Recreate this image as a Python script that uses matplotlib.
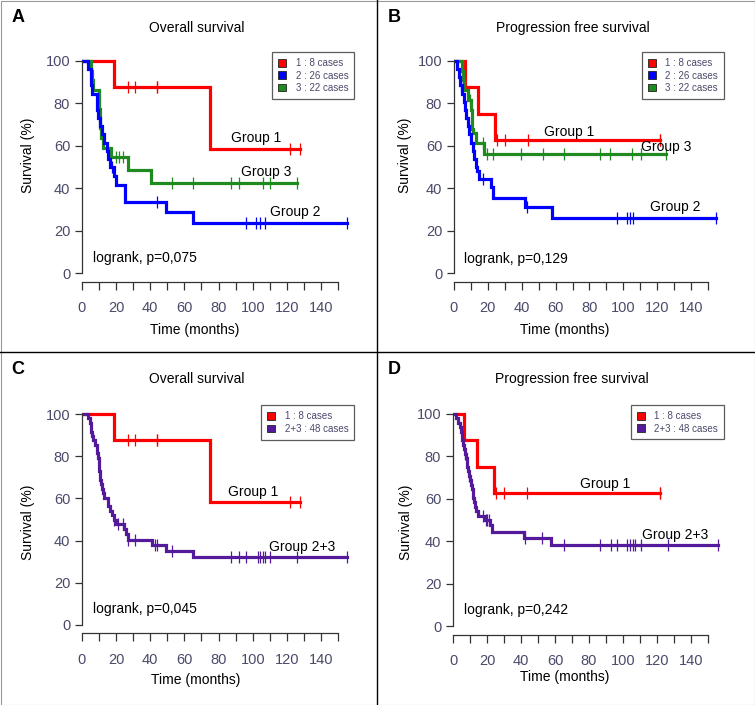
import numpy as np
import matplotlib
matplotlib.use("Agg")
import matplotlib.pyplot as plt
from matplotlib.patches import Patch
from matplotlib.lines import Line2D

plt.rcParams['font.family'] = ['Liberation Sans', 'DejaVu Sans']

# ---- data (event time, survival after the step) ----
# panel A / C : overall survival
os_g1_t = [19, 75]
os_g1_s = [87.5, 58.3]
os_g1_cens = [27, 31, 44, 44, 122, 128]

os_g2_t = [3.5, 5, 5.5, 6, 8.5, 9, 9.5, 10.5, 11.5, 13, 14.5, 15.5, 16.5, 18.5, 20, 25, 49, 65]
os_g2_s = [96.2, 92.3, 88.5, 84.6, 80.8, 76.9, 73.1, 69.2, 65.4, 61.5, 57.7, 53.8, 50.0,
           45.8, 41.7, 33.3, 28.6, 23.8]
os_g2_cens = [17.5, 44, 96, 102, 104, 107, 155]

os_g3_t = [5.5, 6, 6.5, 10, 10.2, 10.4, 10.6, 11, 12.5, 17, 27, 40.5]
os_g3_s = [95.5, 90.9, 86.4, 81.8, 77.3, 72.7, 68.2, 63.6, 59.1, 54.5, 48.5, 42.4]
os_g3_cens = [20, 21.5, 24, 53, 65, 87, 92, 106, 110, 126]

os_g23_t = [3.5, 4.5, 5, 5.5, 6, 6.5, 7.5, 8.5, 9, 9.5, 9.8, 10, 10.2, 10.4, 10.6, 11, 12,
            12.5, 13, 15, 15.5, 16.5, 17.5, 18.5, 20, 24.5, 25.5, 27, 41, 49, 65]
os_g23_s = [97.9, 95.8, 93.8, 91.7, 89.6, 87.5, 85.4, 83.3, 81.3, 79.2, 77.1, 75.0, 72.9,
            70.8, 68.8, 66.7, 64.6, 62.5, 60.4, 58.3, 56.3, 54.2, 52.1, 50.0, 47.9, 45.6,
            42.9, 40.2, 37.8, 35.1, 32.0]
os_g23_cens = [19, 21, 24, 27, 31, 43, 44, 53, 87, 92, 96, 103, 104, 106, 107, 110, 126, 155]

# panel B / D : progression free survival
pfs_g1_t = [6.5, 14, 24]
pfs_g1_s = [87.5, 75.0, 62.5]
pfs_g1_cens = [25.5, 30, 43.5, 121.5, 121.5]

pfs_g2_t = [1.5, 3, 3.5, 5, 6, 6.5, 7, 8, 9, 10, 11, 12, 13, 13.5, 15, 22, 23, 42, 58]
pfs_g2_s = [96.2, 92.3, 88.5, 84.6, 80.8, 76.9, 73.1, 69.2, 65.4, 61.5, 57.7, 53.8, 50.0,
            48.1, 44.4, 40.5, 35.5, 31.0, 25.8]
pfs_g2_cens = [4, 17, 43, 96, 102, 104, 106, 155]

pfs_g3_t = [4.5, 5.5, 6, 8, 10.2, 10.4, 10.6, 11, 13.2, 18]
pfs_g3_s = [95.5, 90.9, 86.4, 81.8, 77.0, 72.5, 68.0, 65.9, 61.3, 56.3]
pfs_g3_cens = [9.3, 17, 19.7, 23, 39.7, 52.6, 65, 86, 92.4, 105.3, 110.3, 125.4]

pfs_g23_t = [2, 3, 4, 4.5, 5, 5.5, 6, 6.5, 7, 7.5, 8, 8.5, 9, 9.5, 10, 10.5, 11, 11.5,
             12, 12.5, 13, 13.5, 14.5, 19, 22, 23, 41.5, 57.5]
pfs_g23_s = [97.9, 95.8, 93.8, 91.7, 89.6, 87.5, 85.4, 83.3, 81.3, 79.2, 77.1, 75.0, 72.9,
             70.8, 68.8, 66.7, 64.6, 62.5, 60.4, 58.3, 56.3, 54.2, 52.1, 50.0, 47.5, 44.3,
             41.6, 38.1]
pfs_g23_cens = [7, 9.5, 17.5, 19.5, 20, 21, 42.5, 52.4, 65.5, 86.6, 92.9, 96.4, 102.3,
                104.1, 105.7, 107, 110.6, 126.3, 155.7]

RED, BLUE, GREEN, PURPLE = '#ff0000', '#0000ff', '#1f8b1f', '#551a9b'
TXT = '#4a4a6a'

W, H = 755, 705
fig = plt.figure(figsize=(W / 100, H / 100), dpi=100)


def px_axes(left, right, top, bottom):
    return fig.add_axes([left / W, 1 - bottom / H, (right - left) / W, (bottom - top) / H])


def km(ax, t, s, cens, color):
    tt = np.concatenate([[0], t])
    ss = np.concatenate([[100], s])
    tend = max(cens)
    ax.step(np.append(tt, tend), np.append(ss, ss[-1]), where='post', color=color,
            lw=2.3, solid_joinstyle='miter')
    idx = np.searchsorted(tt, cens, side='right') - 1
    ax.plot(cens, ss[idx], ls='none', marker='|', ms=9, mew=0.9, color=color)


def style(ax):
    ax.set_xlim(0, 160)
    ax.set_ylim(-4, 104)
    for sp in ['top', 'right']:
        ax.spines[sp].set_visible(False)
    ax.spines['left'].set_bounds(0, 100)
    ax.spines['bottom'].set_bounds(0, 150)
    for sp in ['left', 'bottom']:
        ax.spines[sp].set_color('#333333')
        ax.spines[sp].set_linewidth(0.9)
    ax.set_yticks([0, 20, 40, 60, 80, 100])
    ax.set_xticks(np.arange(0, 151, 10))
    ax.set_xticklabels([str(v) if v % 20 == 0 and v < 150 else '' for v in range(0, 151, 10)])
    ax.tick_params(axis='both', colors='#333333', labelcolor=TXT, labelsize=10.5,
                   length=5, width=0.9)
    ax.tick_params(axis='x', pad=8, length=6)
    ax.set_facecolor('none')


def legend(ax, labels, colors):
    handles = [Patch(facecolor=c, edgecolor='#222222', lw=0.6) for c in colors]
    lg = ax.legend(handles, labels, loc='upper right', fontsize=7, frameon=True,
                   fancybox=False, edgecolor='#333333', borderaxespad=0.1,
                   handlelength=0.8, handleheight=0.8, handletextpad=1.0,
                   labelspacing=0.25, borderpad=0.6, bbox_to_anchor=(1.0, 1.005))
    lg.get_frame().set_linewidth(0.9)
    for tx in lg.get_texts():
        tx.set_color(TXT)


# ---- panel A ----
axA = px_axes(82, 82 + 160 * 1.707, 52.5, 281.5)
km(axA, os_g1_t, os_g1_s, os_g1_cens, RED)
km(axA, os_g3_t, os_g3_s, os_g3_cens, GREEN)
km(axA, os_g2_t, os_g2_s, os_g2_cens, BLUE)
style(axA)
legend(axA, ['1 : 8 cases', '2 : 26 cases', '3 : 22 cases'], [RED, BLUE, GREEN])
axA.text(102, 63.5, 'Group 1', ha='center', va='center', fontsize=10)
axA.text(108, 47.8, 'Group 3', ha='center', va='center', fontsize=10)
axA.text(125, 29, 'Group 2', ha='center', va='center', fontsize=10)
axA.text(6.2, 7, 'logrank, p=0,075', ha='left', va='center', fontsize=10)

# ---- panel B ----
axB = px_axes(454, 454 + 160 * 1.693, 52.5, 281.5)
km(axB, pfs_g1_t, pfs_g1_s, pfs_g1_cens, RED)
km(axB, pfs_g3_t, pfs_g3_s, pfs_g3_cens, GREEN)
km(axB, pfs_g2_t, pfs_g2_s, pfs_g2_cens, BLUE)
style(axB)
legend(axB, ['1 : 8 cases', '2 : 26 cases', '3 : 22 cases'], [RED, BLUE, GREEN])
axB.text(68, 66.6, 'Group 1', ha='center', va='center', fontsize=10)
axB.text(125.5, 59.6, 'Group 3', ha='center', va='center', fontsize=10)
axB.text(130.5, 31, 'Group 2', ha='center', va='center', fontsize=10)
axB.text(6, 6.5, 'logrank, p=0,129', ha='left', va='center', fontsize=10)

# ---- panel C ----
axC = px_axes(82, 82 + 160 * 1.707, 405.6, 633.4)
km(axC, os_g1_t, os_g1_s, os_g1_cens, RED)
km(axC, os_g23_t, os_g23_s, os_g23_cens, PURPLE)
style(axC)
legend(axC, ['1 : 8 cases', '2+3 : 48 cases'], [RED, PURPLE])
axC.text(100, 63, 'Group 1', ha='center', va='center', fontsize=10)
axC.text(128.7, 37, 'Group 2+3', ha='center', va='center', fontsize=10)
axC.text(6.2, 7.4, 'logrank, p=0,045', ha='left', va='center', fontsize=10)

# ---- panel D ----
axD = px_axes(453, 453 + 160 * 1.7, 405.5, 634.5)
km(axD, pfs_g1_t, pfs_g1_s, pfs_g1_cens, RED)
km(axD, pfs_g23_t, pfs_g23_s, pfs_g23_cens, PURPLE)
style(axD)
legend(axD, ['1 : 8 cases', '2+3 : 48 cases'], [RED, PURPLE])
axD.text(89.6, 67.1, 'Group 1', ha='center', va='center', fontsize=10)
axD.text(130.8, 42.7, 'Group 2+3', ha='center', va='center', fontsize=10)
axD.text(6.2, 7.5, 'logrank, p=0,242', ha='left', va='center', fontsize=10)

# ---- titles, axis labels, panel letters ----
def ftext(x, y, s, **kw):
    fig.text(x / W, 1 - y / H, s, ha='center', va='center', **kw)

for (lx, ly, letter) in [(18, 17, 'A'), (394, 17, 'B'), (18, 369, 'C'), (394, 369, 'D')]:
    ftext(lx, ly, letter, fontsize=13, fontweight='bold')

ftext(197, 28, 'Overall survival', fontsize=10)
ftext(573, 28, 'Progression free survival', fontsize=10)
ftext(197, 379, 'Overall survival', fontsize=10)
ftext(572, 379, 'Progression free survival', fontsize=10)

ftext(195, 330, 'Time (months)', fontsize=10)
ftext(565, 330, 'Time (months)', fontsize=10)
ftext(196, 680, 'Time (months)', fontsize=10)
ftext(565, 677, 'Time (months)', fontsize=10)

ftext(28, 155, 'Survival (%)', fontsize=10, rotation=90)
ftext(405, 155, 'Survival (%)', fontsize=10, rotation=90)
ftext(28, 522, 'Survival (%)', fontsize=10, rotation=90)
ftext(406, 522, 'Survival (%)', fontsize=10, rotation=90)

# ---- dividers and outer frame ----
fig.add_artist(Line2D([377 / W, 377 / W], [0, 1], color='black', lw=1.0))
fig.add_artist(Line2D([0, 1], [1 - 352 / H, 1 - 352 / H], color='black', lw=1.0))
fig.add_artist(plt.Rectangle((0.5 / W, 0.5 / H), 1 - 1 / W, 1 - 1 / H, fill=False,
                             edgecolor='#999999', lw=0.8))

fig.savefig('out.png', dpi=100)
